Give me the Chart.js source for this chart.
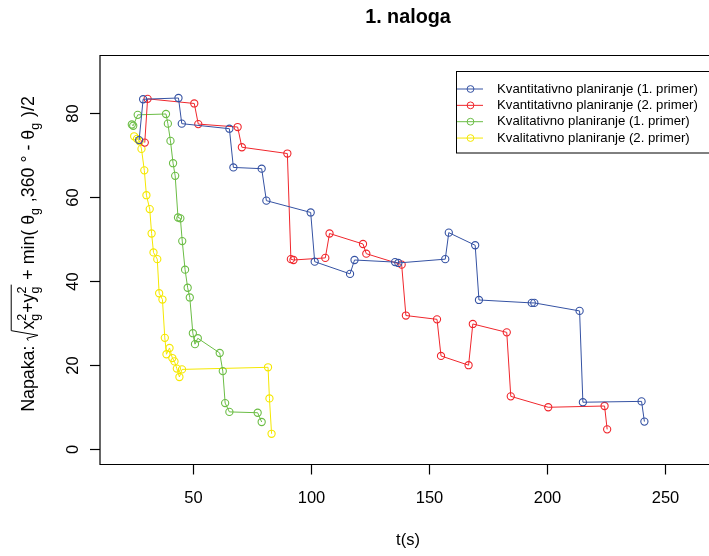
<!DOCTYPE html>
<html>
<head>
<meta charset="utf-8">
<title>1. naloga</title>
<script src="https://cdn.jsdelivr.net/npm/chart.js@4/dist/chart.umd.min.js"></script>
<style>
  html, body { margin: 0; padding: 0; background: #fff; overflow: hidden; }
  #wrap { width: 709px; height: 556px; position: relative; }
</style>
</head>
<body>
<div id="wrap"><canvas id="c" width="709" height="556"></canvas></div>
<script>
// Error over time for two planning approaches, two runs each
const blueX = [27.0, 28.7, 43.7, 45.1, 65.3, 67.0, 79.0, 81.0, 99.8, 101.5, 116.5, 118.4, 135.6, 137.0, 156.9, 158.4, 169.6, 171.2, 193.6, 194.7, 213.9, 215.3, 240.2, 241.4];
const blueY = [73.5, 83.2, 83.5, 77.4, 76.2, 67.0, 66.7, 59.1, 56.3, 44.6, 41.7, 45.0, 44.5, 44.3, 45.2, 51.5, 48.5, 35.5, 34.8, 34.8, 32.9, 11.2, 11.4, 6.6];

const redX = [29.4, 30.6, 50.4, 52.1, 68.8, 70.6, 89.9, 91.4, 92.5, 106.0, 107.8, 122.0, 123.4, 138.4, 140.2, 153.4, 155.1, 166.8, 168.6, 183.0, 184.7, 200.6, 224.5, 225.6];
const redY = [72.9, 83.3, 82.2, 77.3, 76.6, 71.8, 70.3, 45.2, 45.0, 45.5, 51.3, 48.8, 46.5, 43.9, 31.8, 30.9, 22.2, 20.0, 29.8, 27.8, 12.6, 10.0, 10.3, 4.75];

const greenX = [23.9, 24.5, 26.4, 38.4, 39.2, 40.3, 41.4, 42.3, 43.5, 44.5, 45.3, 46.5, 47.6, 48.5, 49.8, 50.7, 51.9, 61.2, 62.5, 63.5, 65.3, 77.3, 79.0];
const greenY = [77.2, 76.9, 79.5, 79.7, 77.4, 73.3, 68.0, 65.0, 55.1, 54.9, 49.5, 42.7, 38.4, 36.1, 27.6, 25.0, 26.4, 22.9, 18.6, 11.0, 8.9, 8.7, 6.5];

const yellowX = [24.9, 26.1, 27.2, 28.0, 29.2, 30.1, 31.5, 32.3, 33.1, 34.7, 35.5, 36.9, 37.9, 38.6, 39.9, 41.1, 42.0, 43.0, 44.1, 45.2, 81.7, 82.3, 83.2];
const yellowY = [74.4, 73.8, 73.2, 71.4, 66.3, 60.4, 57.1, 51.3, 46.8, 45.2, 37.1, 35.6, 26.5, 22.6, 24.1, 21.7, 20.9, 19.2, 17.2, 19.0, 19.5, 12.1, 3.7];

const seriesLabels = [
  'Kvantitativno planiranje (1. primer)',
  'Kvantitativno planiranje (2. primer)',
  'Kvalitativno planiranje (1. primer)',
  'Kvalitativno planiranje (2. primer)'
];
const seriesColors = ['#3552A3', '#F0262C', '#6BBD45', '#F5E800'];

const xTicks = [50, 100, 150, 200, 250];
const yTicks = [0, 20, 40, 60, 80];

const titleText = '1. naloga';
const xTitle = 't(s)';

const FONT = '"Liberation Sans", Arial, Helvetica, sans-serif';

function pts(xs, ys) { return xs.map((x, i) => ({ x: x, y: ys[i] })); }

const datasets = [
  pts(blueX, blueY), pts(redX, redY), pts(greenX, greenY), pts(yellowX, yellowY)
].map((d, i) => ({
  label: seriesLabels[i],
  data: d,
  showLine: true,
  borderColor: seriesColors[i],
  borderWidth: 1,
  tension: 0,
  pointStyle: 'circle',
  pointRadius: 3.6,
  pointBorderWidth: 1.1,
  pointBorderColor: seriesColors[i],
  pointBackgroundColor: 'rgba(0,0,0,0)',
  fill: false
}));

// y-axis title: Napaka: sqrt(x_g^2 + y_g^2) + min(theta_g, 360° - theta_g)/2
function drawYTitle(ctx, cx, cy) {
  const F = 17.8, S = 12.4;
  const big = F + 'px ' + FONT, small = S + 'px ' + FONT;
  const items = [
    { t: 'Napaka: ' },
    { sqrtOpen: true },
    { t: 'x' }, { sup: '2', sub: 'g' }, { t: '+' }, { t: 'y' }, { sup: '2', sub: 'g' },
    { sqrtClose: true },
    { t: ' + min( ' }, { t: '\u03B8' }, { sub: 'g' },
    { t: ' ,360 \u00B0 - ' }, { t: '\u03B8' }, { sub: 'g' }, { t: ' )/2' }
  ];
  const rad = 0.62 * F;
  const widths = items.map(it => {
    if (it.sqrtOpen) return rad;
    if (it.sqrtClose) return 1;
    if (it.t !== undefined) { ctx.font = big; return ctx.measureText(it.t).width; }
    ctx.font = small;
    const a = it.sup ? ctx.measureText(it.sup).width : 0;
    const b = it.sub ? ctx.measureText(it.sub).width : 0;
    return Math.max(a, b) + 1;
  });
  const total = widths.reduce((s, w) => s + w, 0);
  ctx.save();
  ctx.translate(cx, cy);
  ctx.rotate(-Math.PI / 2);
  ctx.fillStyle = '#000';
  ctx.strokeStyle = '#000';
  ctx.lineWidth = 1;
  ctx.textBaseline = 'alphabetic';
  ctx.textAlign = 'left';
  let x = -total / 2;
  let sqrtX = 0;
  const top = -1.28 * F;
  items.forEach((it, i) => {
    if (it.sqrtOpen) {
      sqrtX = x;
    } else if (it.sqrtClose) {
      ctx.beginPath();
      ctx.moveTo(sqrtX, -0.32 * F);
      ctx.lineTo(sqrtX + 0.13 * F, -0.4 * F);
      ctx.lineTo(sqrtX + 0.3 * F, 0.22 * F);
      ctx.lineTo(sqrtX + 0.56 * F, top);
      ctx.lineTo(x + 1, top);
      ctx.stroke();
    } else if (it.t !== undefined) {
      ctx.font = big;
      ctx.fillText(it.t, x, 0);
    } else {
      ctx.font = small;
      if (it.sup) ctx.fillText(it.sup, x, -0.46 * F);
      if (it.sub) ctx.fillText(it.sub, x, 0.3 * F);
    }
    x += widths[i];
  });
  ctx.restore();
}

const frame = {
  id: 'frame',
  afterDraw(chart) {
    const ctx = chart.ctx;
    const a = chart.chartArea;
    const xs = chart.scales.x, ys = chart.scales.y;
    ctx.save();
    ctx.strokeStyle = '#000';
    ctx.lineWidth = 1.2;
    // plot box (right side runs past the canvas edge)
    ctx.beginPath();
    ctx.moveTo(a.right + 20, a.top);
    ctx.lineTo(a.left, a.top);
    ctx.lineTo(a.left, a.bottom);
    ctx.lineTo(a.right + 20, a.bottom);
    ctx.stroke();

    // x ticks and labels
    ctx.fillStyle = '#000';
    ctx.font = '16.5px ' + FONT;
    ctx.textAlign = 'center';
    ctx.textBaseline = 'middle';
    xTicks.forEach(v => {
      const px = Math.round(xs.getPixelForValue(v)) + 0.5;
      ctx.beginPath();
      ctx.moveTo(px, a.bottom);
      ctx.lineTo(px, a.bottom + 10);
      ctx.stroke();
      ctx.fillText(String(v), px, a.bottom + 34);
    });

    // y ticks and rotated labels
    yTicks.forEach(v => {
      const py = Math.round(ys.getPixelForValue(v)) + 0.5;
      ctx.beginPath();
      ctx.moveTo(a.left, py);
      ctx.lineTo(a.left - 10, py);
      ctx.stroke();
      ctx.save();
      ctx.translate(a.left - 27, py);
      ctx.rotate(-Math.PI / 2);
      ctx.textAlign = 'center';
      ctx.textBaseline = 'middle';
      ctx.fillText(String(v), 0, 0);
      ctx.restore();
    });

    // titles
    const cx = (a.left + 716) / 2;
    ctx.font = 'bold 19.8px ' + FONT;
    ctx.textAlign = 'center';
    ctx.textBaseline = 'middle';
    ctx.fillText(titleText, cx, 18);
    ctx.font = '16.5px ' + FONT;
    ctx.fillText(xTitle, cx, 540);
    drawYTitle(ctx, 34, 254);

    // legend
    const lx = 456, ly = 71, lh = 81.5;
    ctx.lineWidth = 1;
    ctx.strokeStyle = '#000';
    ctx.fillStyle = '#fff';
    ctx.fillRect(lx, ly, 300, lh);
    ctx.strokeRect(lx + 0.5, ly + 0.5, 300, lh);
    ctx.font = '13.2px ' + FONT;
    ctx.textAlign = 'left';
    ctx.textBaseline = 'middle';
    seriesLabels.forEach((lab, i) => {
      const yy = 89 + i * 16.35;
      ctx.strokeStyle = seriesColors[i];
      ctx.beginPath();
      ctx.moveTo(lx + 1, yy);
      ctx.lineTo(lx + 27, yy);
      ctx.stroke();
      ctx.beginPath();
      ctx.arc(lx + 14.5, yy, 3.4, 0, Math.PI * 2);
      ctx.stroke();
      ctx.fillStyle = '#000';
      ctx.fillText(lab, lx + 41, yy);
    });
    ctx.restore();
  }
};

new Chart(document.getElementById('c'), {
  type: 'line',
  data: { datasets: datasets },
  options: {
    responsive: false,
    animation: false,
    events: [],
    layout: { padding: { left: 100, top: 55.5, right: 0, bottom: 91.5 } },
    scales: {
      x: { type: 'linear', min: 10.4, max: 266.65, display: false },
      y: { type: 'linear', min: -3.6, max: 93.6, display: false }
    },
    plugins: { legend: { display: false }, tooltip: { enabled: false }, title: { display: false } }
  },
  plugins: [frame]
});
</script>
</body>
</html>
